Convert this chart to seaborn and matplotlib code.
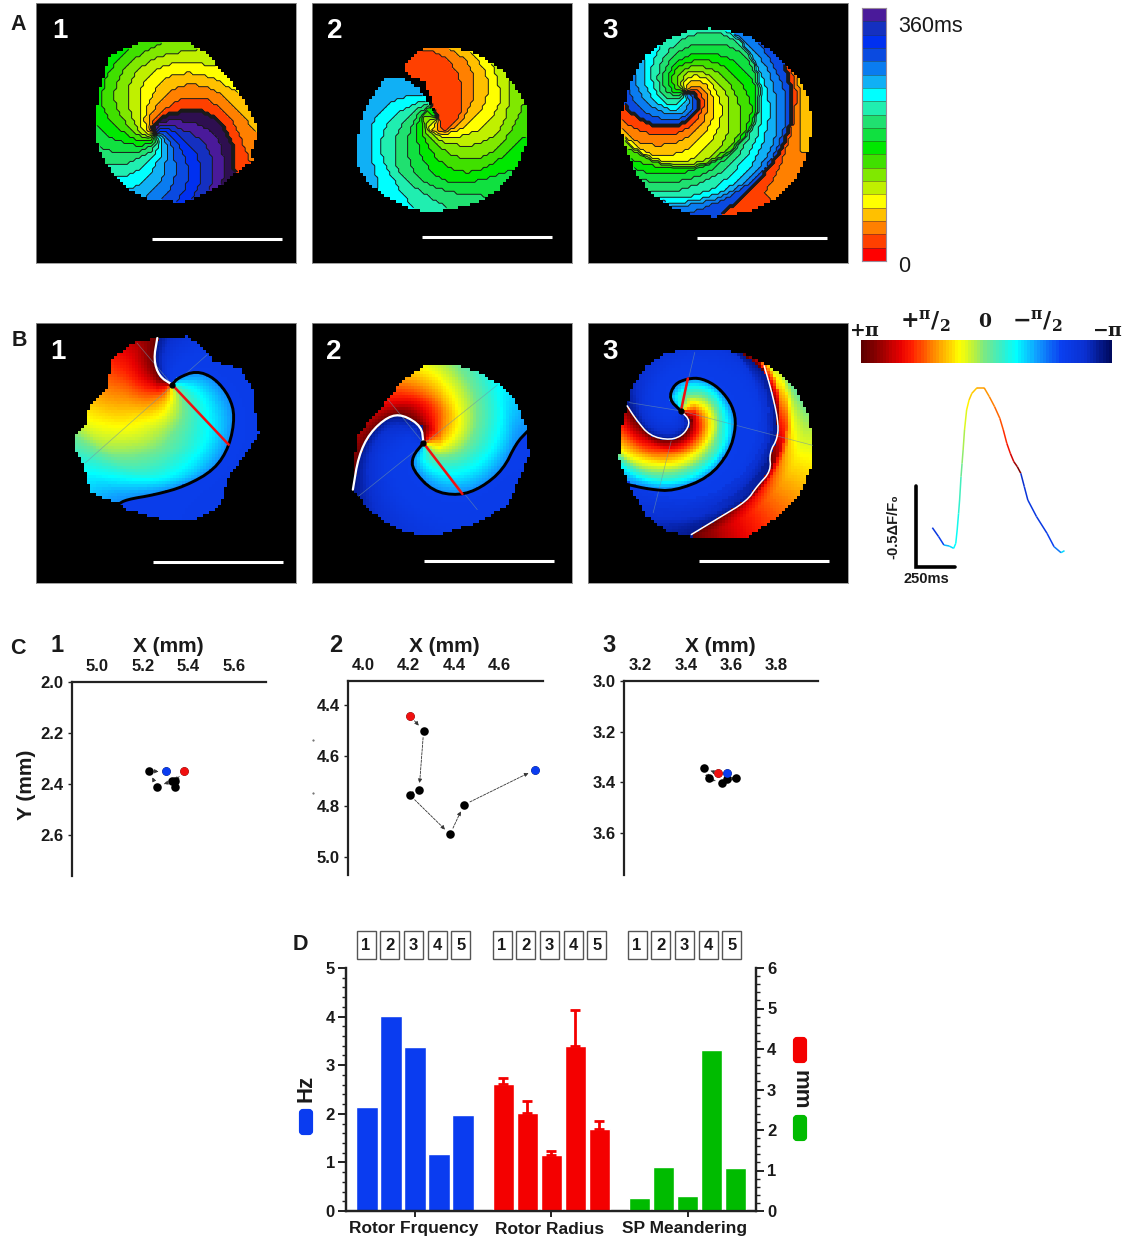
import numpy as np
import pandas as pd
import seaborn as sns
import matplotlib
matplotlib.use('Agg')
import matplotlib.pyplot as plt
from matplotlib.colors import ListedColormap, LinearSegmentedColormap
from matplotlib.collections import LineCollection
from matplotlib.patches import FancyBboxPatch, Rectangle
from matplotlib.path import Path
from matplotlib.ticker import MultipleLocator

W, H = 1124, 1239
CELLS = 87

# ---- activation bands, bottom of the bar first
band_colors = ['#ff0000', '#ff4000', '#ff8000', '#ffc000', '#ffff00', '#c0f000', '#80e800',
               '#40e000', '#00e800', '#10e040', '#20e070', '#20eeb0', '#00ffff', '#10b0f5',
               '#0a7cf0', '#0a4ae0', '#0030f0', '#1530c0', '#4a1a9a']
dark_band = '#2e0f50'

# phase bar stops
phase_stops = [0, .08, .15, .2, .28, .39, .45, .5, .57, .62, .7, .8, .9, 1]
phase_colors = ['#5e0000', '#a00000', '#e80000', '#ff2000', '#ff8000', '#ffff00', '#b8f040', '#70e890',
                '#30f0d0', '#00ffff', '#10a0ff', '#0a40f0', '#0a30d0', '#000a60']

# ---- map geometry (crop pixels, crop box of the panel)
box_a1 = (97, 800, 10, 788)
box_a2 = (845, 1547, 10, 788)
box_a3 = (22, 772, 10, 788)
box_b1 = (97, 800, 40, 820)
box_b2 = (845, 1545, 40, 820)
box_b3 = (22, 772, 42, 820)

a1_outline = [(505, 125), (560, 160), (610, 225), (640, 265), (690, 360), (698, 400), (680, 460), (685, 480),
              (640, 520), (630, 525), (600, 555), (500, 607), (470, 605), (390, 595), (350, 570), (310, 530),
              (280, 480), (258, 420), (258, 380), (265, 280), (295, 170), (370, 130), (440, 125)]
a1_tip = (418, 403)
a1_front = [(414, 378), (437, 351), (470, 340), (520, 328), (575, 345), (610, 390), (630, 440), (635, 520), (640, 600)]

a2_outline = [(1150, 140), (1210, 140), (1290, 160), (1360, 210), (1400, 270), (1428, 330), (1428, 420), (1400, 500),
              (1350, 570), (1290, 610), (1170, 640), (1110, 625), (1040, 590), (990, 540), (965, 490), (970, 400),
              (985, 330), (1040, 235), (1090, 235), (1130, 262), (1160, 310), (1178, 345), (1165, 290), (1148, 245),
              (1100, 222), (1095, 190)]
a2_tip = (1185, 355)
a2_ref = [(1200, 395), (1230, 370), (1250, 330), (1250, 230), (1180, 140), (949, 170)]
a2_front = [(1165, 300), (1140, 245), (1100, 225), (1095, 190), (1008, 178), (895, 277)]

a3_outline = [(370, 85), (440, 95), (500, 115), (560, 160), (630, 235), (660, 300), (670, 370), (660, 450), (625, 530),
              (560, 600), (490, 635), (390, 650), (340, 648), (260, 620), (210, 585), (165, 530), (135, 460),
              (120, 400), (120, 340), (150, 230), (190, 165), (250, 120), (310, 95)]
a3_tip = (300, 275)
a3_front = [(330, 280), (345, 310), (330, 350), (260, 385), (190, 370), (125, 320), (88, 240), (153, 79), (392, 21),
            (555, 128), (608, 237), (611, 370), (564, 481), (472, 590), (395, 650)]

b1_outline = [(425, 85), (510, 80), (545, 110), (580, 155), (650, 175), (690, 250), (690, 300), (700, 370), (660, 440),
              (620, 500), (595, 590), (530, 630), (450, 635), (340, 600), (318, 580), (280, 565), (245, 550),
              (225, 470), (205, 420), (203, 375), (230, 350), (240, 290), (290, 235), (300, 150), (360, 100)]
b1_tip = (465, 225)
b1_white = [(430, 200), (415, 150), (425, 85)]
b1_black = [(480, 205), (530, 183), (580, 205), (620, 260), (635, 320), (620, 410), (580, 480), (500, 530), (420, 555),
            (340, 570), (318, 585)]
b1_red = (618, 405)
b1_thin = [((230, 460), (560, 135)), ((370, 100), (465, 225))]

b2_outline = [(1150, 165), (1230, 165), (1300, 190), (1350, 225), (1395, 275), (1425, 360), (1430, 440), (1395, 530),
              (1370, 590), (1290, 640), (1180, 680), (1100, 670), (1040, 640), (990, 590), (955, 540), (955, 470),
              (970, 370), (1040, 280), (1090, 210)]
b2_tip = (1145, 400)
b2_white = [(1140, 350), (1090, 315), (1050, 320), (1000, 370), (970, 440), (955, 540)]
b2_black = [(1115, 440), (1115, 480), (1170, 545), (1240, 558), (1300, 535), (1360, 480), (1395, 400), (1425, 365)]
b2_red = (1250, 553)
b2_thin = [((970, 560), (1345, 225)), ((1050, 270), (1145, 400)), ((1145, 400), (1290, 600))]

b3_outline = [(300, 120), (400, 120), (480, 135), (560, 180), (620, 240), (655, 310), (672, 400), (665, 480), (625, 570),
              (560, 630), (480, 685), (330, 685), (250, 665), (190, 620), (140, 530), (112, 450), (115, 370),
              (135, 290), (145, 240), (190, 170), (240, 135)]
b3_tip = (290, 305)
b3_white_in = [(318, 335), (300, 375), (260, 393), (200, 380), (160, 330), (135, 290)]
b3_white_gap = [(115, 150), (300, 40)]
b3_white_out = [(530, 170), (550, 240), (570, 330), (570, 385), (545, 430), (550, 485), (510, 530), (480, 575), (400, 625),
                (320, 675)]
b3_black = [(255, 270), (270, 225), (310, 208), (350, 207), (400, 235), (440, 290), (450, 350), (430, 430), (370, 505),
            (270, 545), (200, 540), (135, 525)]
b3_black_gap = [(125, 19), (528, 22)]
b3_red = (310, 208)
b3_thin = [((290, 305), (670, 408)), ((262, 395), (210, 610)), ((290, 305), (330, 130)), ((140, 280), (290, 305))]

# ---- action potential trace, crop pixels and phase along it
trace_x = [1012, 1030, 1045, 1060, 1073, 1079, 1083, 1087, 1090, 1094, 1097, 1100, 1104, 1110, 1117, 1125, 1140, 1160, 1175,
           1190, 1205, 1215, 1225, 1235, 1245, 1255, 1265, 1275, 1285, 1310, 1340, 1360, 1380, 1390]
trace_y = [653, 680, 705, 708, 715, 700, 660, 610, 570, 500, 460, 420, 360, 300, 270, 250, 233, 233, 260,
           290, 325, 360, 400, 430, 455, 470, 490, 530, 570, 620, 670, 710, 728, 722]
trace_phase = [.85, .8, .68, .65, .62, .61, .6, .57, .55, .5, .48, .46, .42, .38, .35, .34, .31, .3, .28,
               .26, .24, .21, .18, .13, .08, .04, .9, .87, .85, .84, .8, .74, .65, .62]

# ---- panel C, spiral tip paths
c1_x = [5.38, 5.342, 5.342, 5.327, 5.264, 5.226, 5.30]
c1_y = [2.35, 2.388, 2.41, 2.388, 2.41, 2.35, 2.35]
c2_x = [4.205, 4.266, 4.246, 4.205, 4.382, 4.442, 4.754]
c2_y = [4.441, 4.50, 4.736, 4.755, 4.912, 4.795, 4.656]
c3_x = [3.54, 3.48, 3.50, 3.56, 3.58, 3.62, 3.58]
c3_y = [3.365, 3.345, 3.385, 3.405, 3.388, 3.385, 3.365]

# ---- panel D
group_names = ['Rotor Frquency', 'Rotor Radius', 'SP Meandering']
rotor_freq = [2.13, 4.02, 3.38, 1.18, 1.97]
rotor_radius = [3.14, 2.42, 1.38, 4.08, 2.02]
rotor_radius_top = [3.29, 2.71, 1.48, 4.97, 2.23]
meander = [0.33, 1.08, 0.36, 3.97, 1.05]
box_labels = ['1', '2', '3', '4', '5']

sns.set_theme(style='white')
plt.rcParams['font.family'] = ['Liberation Sans', 'DejaVu Sans']
plt.rcParams['mathtext.fontset'] = 'dejavuserif'
TXT = '#1a1a1a'

fig = plt.figure(figsize=(W / 100, H / 100), dpi=100)


def px_axes(x0, y0, x1, y1, **kw):
    return fig.add_axes([x0 / W, 1 - y1 / H, (x1 - x0) / W, (y1 - y0) / H], **kw)


overlay = px_axes(0, 0, W, H)
overlay.set_xlim(0, W)
overlay.set_ylim(H, 0)
overlay.axis('off')
overlay.set_zorder(10)
overlay.patch.set_alpha(0)


def to_cells(pts, box):
    pts = np.array(pts, dtype=float).reshape(-1, 2)
    x = (pts[:, 0] - box[0]) / (box[1] - box[0]) * CELLS
    y = (pts[:, 1] - box[2]) / (box[3] - box[2]) * CELLS
    return x, y


def rounded(x, y, passes=2):
    # corner cutting, only so the drawn curves lose their kinks
    for _ in range(passes):
        nx = np.column_stack([.75 * x[:-1] + .25 * x[1:], .25 * x[:-1] + .75 * x[1:]]).ravel()
        ny = np.column_stack([.75 * y[:-1] + .25 * y[1:], .25 * y[:-1] + .75 * y[1:]]).ravel()
        x = np.r_[x[0], nx, x[-1]]
        y = np.r_[y[0], ny, y[-1]]
    return x, y


def curve_polar(pts, tip, box):
    x, y = to_cells(pts, box)
    x, y = rounded(x, y)
    tx, ty = to_cells([tip], box)
    r = np.hypot(x - tx, y - ty)
    th = np.unwrap(np.arctan2(y - ty, x - tx))
    return np.maximum.accumulate(r), np.degrees(th)


def sweep(tip, box, start_pts, end_pts, sign):
    # angle swept from one front to the other on each radius
    cx, cy = np.meshgrid(np.arange(CELLS) + .5, np.arange(CELLS) + .5)
    tx, ty = to_cells([tip], box)
    r = np.hypot(cx - tx, cy - ty)
    th = np.degrees(np.arctan2(cy - ty, cx - tx))
    sr, sth = curve_polar(start_pts, tip, box)
    er, eth = curve_polar(end_pts, tip, box)
    start = np.interp(r, sr, sth)
    end = np.interp(r, er, eth)
    d = (sign * (th - start)) % 360
    span = (sign * (end - start)) % 360
    span[span < 1] = 360
    return d, span, cx, cy


def outline_mask(pts, box):
    x, y = to_cells(pts, box)
    cx, cy = np.meshgrid(np.arange(CELLS) + .5, np.arange(CELLS) + .5)
    inside = Path(np.column_stack([x, y])).contains_points(np.column_stack([cx.ravel(), cy.ravel()]))
    return ~inside.reshape(cx.shape)


def frame(ax):
    ax.set_facecolor('black')
    for s in ax.spines.values():
        s.set_visible(True)
        s.set_color('#909090')
        s.set_linewidth(.6)


band_cmap = ListedColormap(band_colors + [dark_band])
phase_cmap = LinearSegmentedColormap.from_list('phase', list(zip(phase_stops, phase_colors)))


def draw_bands(x0, y0, t, mask, cx, cy):
    ax = px_axes(x0, y0, x0 + 260, y0 + 260)
    bands = np.floor(t)
    sns.heatmap(bands, mask=mask, cmap=band_cmap, vmin=-.5, vmax=19.5, cbar=False,
                xticklabels=False, yticklabels=False, ax=ax)
    ax.contour(cx, cy, np.ma.array(bands, mask=mask), levels=np.arange(.5, 20), colors='k', linewidths=.7)
    frame(ax)


# panel A
d, span, cx, cy = sweep(a1_tip, box_a1, a1_front, a1_front, -1)
draw_bands(36, 3, 1 + 19 * d / 360, outline_mask(a1_outline, box_a1), cx, cy)

d, span, cx, cy = sweep(a2_tip, box_a2, a2_ref, a2_front, 1)
t = np.where(d < span, np.minimum(2 + 14.9 * d / 360, 13.9), 1.5)
draw_bands(312, 3, t, outline_mask(a2_outline, box_a2), cx, cy)

d, span, cx, cy = sweep(a3_tip, box_a3, a3_front, a3_front, -1)
draw_bands(588, 3, 1 + 15 * d / 360, outline_mask(a3_outline, box_a3), cx, cy)


# panel B
def draw_phase(x0, y0, box, outline, tip, white, black, sign, red_end, thin, white_parts, black_draw, lw_white):
    d, span, cx, cy = sweep(tip, box, white, black, sign)
    p = d / span
    q = (d - span) / np.maximum(360 - span, 1)
    val = np.where(d < span, .72 * np.clip(p, 0, 1) ** .85, .82 + .14 * np.clip(q, 0, 1) ** 3)
    ax = px_axes(x0, y0, x0 + 260, y0 + 260)
    sns.heatmap(val, mask=outline_mask(outline, box), cmap=phase_cmap, vmin=0, vmax=1, cbar=False,
                xticklabels=False, yticklabels=False, ax=ax)
    for a, b in thin:
        xs, ys = to_cells([a, b], box)
        ax.plot(xs, ys, color='#6f93a8', lw=.5, alpha=.65)
    for i, part in enumerate(white_parts):
        xs, ys = to_cells([tip] + part if i == 0 else part, box)
        xs, ys = rounded(xs, ys)
        ax.plot(xs, ys, color='white', lw=lw_white)
    xs, ys = to_cells([tip] + black_draw, box)
    xs, ys = rounded(xs, ys)
    ax.plot(xs, ys, color='black', lw=2.1)
    xs, ys = to_cells([tip, red_end], box)
    ax.plot(xs, ys, color='#f01010', lw=1.8)
    xs, ys = to_cells([tip], box)
    ax.plot(xs, ys, 'o', color='black', ms=3.5)
    ax.set_xlim(0, CELLS)
    ax.set_ylim(CELLS, 0)
    frame(ax)


draw_phase(36, 323, box_b1, b1_outline, b1_tip, b1_white, b1_black, -1, b1_red, b1_thin, [b1_white], b1_black, 1.6)
draw_phase(312, 323, box_b2, b2_outline, b2_tip, b2_white, b2_black, 1, b2_red, b2_thin, [b2_white], b2_black, 1.6)
draw_phase(588, 323, box_b3, b3_outline, b3_tip, b3_white_in + b3_white_gap + b3_white_out,
           b3_black + b3_black_gap, -1, b3_red, b3_thin, [b3_white_in, b3_white_out], b3_black, 1.1)

# bars on the right
ax = px_axes(862, 8, 886, 261)
sns.heatmap(np.arange(19)[::-1].reshape(-1, 1), cmap=ListedColormap(band_colors), cbar=False,
            xticklabels=False, yticklabels=False, ax=ax)
ax.hlines(np.arange(1, 19), 0, 1, color='#303030', lw=.5, alpha=.6)
for s in ax.spines.values():
    s.set_visible(True)
    s.set_color('#9a8a9a')
    s.set_linewidth(.8)

ax = px_axes(861, 340, 1112, 363)
sns.heatmap(np.linspace(0, 1, 80).reshape(1, -1), cmap=phase_cmap, vmin=0, vmax=1, cbar=False,
            xticklabels=False, yticklabels=False, ax=ax)

overlay.text(898, 27, '360ms', fontsize=15.5, color=TXT, va='center')
overlay.text(898, 267, '0', fontsize=15.5, color=TXT, va='center')
for x, y, s, fs in [(864, 331, r'$\mathbf{+\pi}$', 13.5), (925, 321, r'$\mathbf{+{}^{\pi}/{}_{2}}$', 16),
                    (985, 322, r'$\mathbf{0}$', 13.5), (1037, 321, r'$\mathbf{-{}^{\pi}/{}_{2}}$', 16),
                    (1107, 331, r'$\mathbf{-\pi}$', 13.5)]:
    overlay.text(x, y, s, fontsize=fs, color=TXT, ha='center', va='center')

# scale bars of the maps
for x0, x1, y in [(152, 282, 239), (422, 552, 237), (697, 827, 238), (153, 283, 562), (424, 554, 561), (699, 829, 561)]:
    overlay.plot([x0, x1], [y, y], color='white', lw=2.2, solid_capstyle='butt')

for x, y, s in [(60, 31, '1'), (335, 31, '2'), (610, 31, '3'), (58, 352, '1'), (334, 352, '2'), (610, 352, '3')]:
    overlay.text(x, y, s, color='white', fontsize=20, fontweight='bold', ha='center', va='center')
for x, y, s in [(18, 24, 'A'), (19, 341, 'B'), (18, 648, 'C'), (300, 945, 'D')]:
    overlay.text(x, y, s, color=TXT, fontsize=15.5, fontweight='bold', ha='center', va='center')

# trace
tx = 578.5 + np.array(trace_x) / 2.86
ty = 310 + np.array(trace_y) / 3
segs = np.stack([np.column_stack([tx[:-1], ty[:-1]]), np.column_stack([tx[1:], ty[1:]])], axis=1)
overlay.add_collection(LineCollection(segs, colors=phase_cmap(np.array(trace_phase[:-1])), linewidths=1.1))
overlay.plot([916, 916, 955], [486, 567, 567], color='black', lw=2.6, solid_joinstyle='miter')
overlay.text(893, 527, '-0.5ΔF/F₀', rotation=90, fontsize=10.5, fontweight='bold', color=TXT, ha='center', va='center',
             family=['Liberation Sans', 'DejaVu Sans'])
overlay.text(926, 579, '250ms', fontsize=10.5, fontweight='bold', color=TXT, ha='center', va='center')


# panel C
def tip_path(box_px, xlim, ylim, xticks, yticks, xs, ys, red_i, blue_i, big_arrow_lw):
    ax = px_axes(*box_px)
    frame_df = pd.DataFrame({'x': xs, 'y': ys})
    for a, b in zip(range(len(xs) - 1), range(1, len(xs))):
        ax.annotate('', xy=(xs[b], ys[b]), xytext=(xs[a], ys[a]),
                    arrowprops=dict(arrowstyle='-|>', color='#333333', lw=big_arrow_lw, ls=(0, (3, 1.5)),
                                    mutation_scale=6, shrinkA=5, shrinkB=5))
    sns.scatterplot(data=frame_df, x='x', y='y', color='black', s=38, linewidth=0, ax=ax, zorder=3)
    sns.scatterplot(x=[xs[red_i]], y=[ys[red_i]], color='#f01010', s=38, linewidth=0, ax=ax, zorder=4)
    sns.scatterplot(x=[xs[blue_i]], y=[ys[blue_i]], color='#0a3cf0', s=38, linewidth=0, ax=ax, zorder=4)
    ax.set_xlim(*xlim)
    ax.set_ylim(*ylim)
    ax.set_xlabel('')
    ax.set_ylabel('')
    ax.xaxis.tick_top()
    ax.set_xticks(xticks)
    ax.set_yticks(yticks)
    ax.set_xticklabels(['%.1f' % v for v in xticks], fontweight='bold', fontsize=12, color=TXT)
    ax.set_yticklabels(['%.1f' % v for v in yticks], fontweight='bold', fontsize=12, color=TXT)
    ax.tick_params(axis='both', length=3, width=1, color='#222222', pad=3, left=True, top=True)
    sns.despine(ax=ax, top=False, left=False, right=True, bottom=True)
    ax.spines['top'].set_linewidth(1.6)
    ax.spines['left'].set_linewidth(1.6)
    ax.spines['top'].set_color('#222222')
    ax.spines['left'].set_color('#222222')
    ax.patch.set_alpha(0)


tip_path((72, 682, 266, 876), (4.89, 5.74), (2.76, 2.0), [5.0, 5.2, 5.4, 5.6], [2.0, 2.2, 2.4, 2.6],
         c1_x, c1_y, 0, 6, .6)
tip_path((348, 681, 543, 875), (3.934, 4.79), (5.073, 4.303), [4.0, 4.2, 4.4, 4.6], [4.4, 4.6, 4.8, 5.0],
         c2_x, c2_y, 0, 6, .6)
tip_path((624, 681, 818, 875), (3.127, 3.983), (3.767, 3.0), [3.2, 3.4, 3.6, 3.8], [3.0, 3.2, 3.4, 3.6],
         c3_x, c3_y, 0, 6, .4)

for x, s in [(168, 'X (mm)'), (444, 'X (mm)'), (720, 'X (mm)')]:
    overlay.text(x, 646, s, fontsize=15, fontweight='bold', color=TXT, ha='center', va='center')
for x, s in [(57, '1'), (336, '2'), (609, '3')]:
    overlay.text(x, 646, s, fontsize=17, fontweight='bold', color=TXT, ha='center', va='center')
overlay.text(27, 785, 'Y (mm)', rotation=90, fontsize=15, fontweight='bold', color=TXT, ha='center', va='center')
overlay.plot([313, 313], [740, 793], ls='none', marker='.', ms=1, color='#555555')

# panel D
step = 24.0
x_first = 367.0
group_gap = 5.68
xs_f = np.arange(5.0)
xs_r = xs_f + group_gap
xs_m = xs_f + 2 * group_gap
left_x = 346
right_x = 756
xlim_d = ((left_x - x_first) / step, (right_x - x_first) / step)

axl = px_axes(left_x, 968, right_x, 1211)
sns.barplot(x=xs_f, y=rotor_freq, color='#0a3cf0', saturation=1, native_scale=True, width=.88, errorbar=None, ax=axl)
axl.set_xlim(*xlim_d)
axl.set_ylim(0, 5)
axr = axl.twinx()
sns.barplot(x=xs_r, y=rotor_radius, color='#f40000', saturation=1, native_scale=True, width=.88, errorbar=None, ax=axr)
sns.barplot(x=xs_m, y=meander, color='#00bb00', saturation=1, native_scale=True, width=.88, errorbar=None, ax=axr)
up = np.array(rotor_radius_top) - np.array(rotor_radius)
axr.errorbar(xs_r, rotor_radius, yerr=[np.zeros(5), up], fmt='none', ecolor='#f40000', elinewidth=2, capsize=3.5, capthick=2)
axr.set_xlim(*xlim_d)
axr.set_ylim(0, 6)

centers = [xs_f[2], xs_r[2], xs_m[2]]
axl.set_xticks(centers)
axl.set_xticklabels(['', '', ''])
axl.set_yticks(range(6))
axl.set_yticklabels([str(i) for i in range(6)], fontweight='bold', fontsize=12, color=TXT)
axr.set_yticks(range(7))
axr.set_yticklabels([str(i) for i in range(7)], fontweight='bold', fontsize=12, color=TXT)
axl.yaxis.set_minor_locator(MultipleLocator(.2))
axr.yaxis.set_minor_locator(MultipleLocator(.2))
axl.tick_params(axis='x', length=4, width=1.4, color='#222222', bottom=True, pad=5)
axl.tick_params(axis='y', which='major', length=6, width=1.4, color='#222222', left=True, pad=2)
axl.tick_params(axis='y', which='minor', length=3, width=1, color='#222222', left=True)
axr.tick_params(axis='y', which='major', length=6, width=1.4, color='#222222', right=True, pad=2)
axr.tick_params(axis='y', which='minor', length=3, width=1, color='#222222', right=True)
axl.set_xlabel('')
axl.set_ylabel('')
axr.set_ylabel('')
for a in (axl, axr):
    a.spines['top'].set_visible(False)
    for s in ('left', 'right', 'bottom'):
        a.spines[s].set_linewidth(1.6)
        a.spines[s].set_color('#222222')

for x, s in zip([414, 550, 685], group_names):
    overlay.text(x, 1229, s, fontsize=12.5, fontweight='bold', color=TXT, ha='center', va='center')

for x0 in [366, 502, 637]:
    for i, s in enumerate(box_labels):
        cx_box = x0 + i * 23.7
        overlay.add_patch(Rectangle((cx_box - 9.5, 931), 19, 28, fc='white', ec='#555555', lw=1))
        overlay.text(cx_box, 945, s, fontsize=12, fontweight='bold', color=TXT, ha='center', va='center')

for x, y, c in [(306, 1122, '#0a3cf0'), (800, 1050, '#f40000'), (800, 1128, '#00bb00')]:
    overlay.add_patch(FancyBboxPatch((x - 5, y - 11), 10, 22, boxstyle='round,pad=0,rounding_size=2', fc=c, ec=c, lw=3))
overlay.text(306, 1088, 'Hz', rotation=90, fontsize=16, fontweight='bold', color=TXT, ha='center', va='center')
overlay.text(800, 1090, 'mm', rotation=270, fontsize=16, fontweight='bold', color=TXT, ha='center', va='center')

fig.savefig('out.png', dpi=100)
